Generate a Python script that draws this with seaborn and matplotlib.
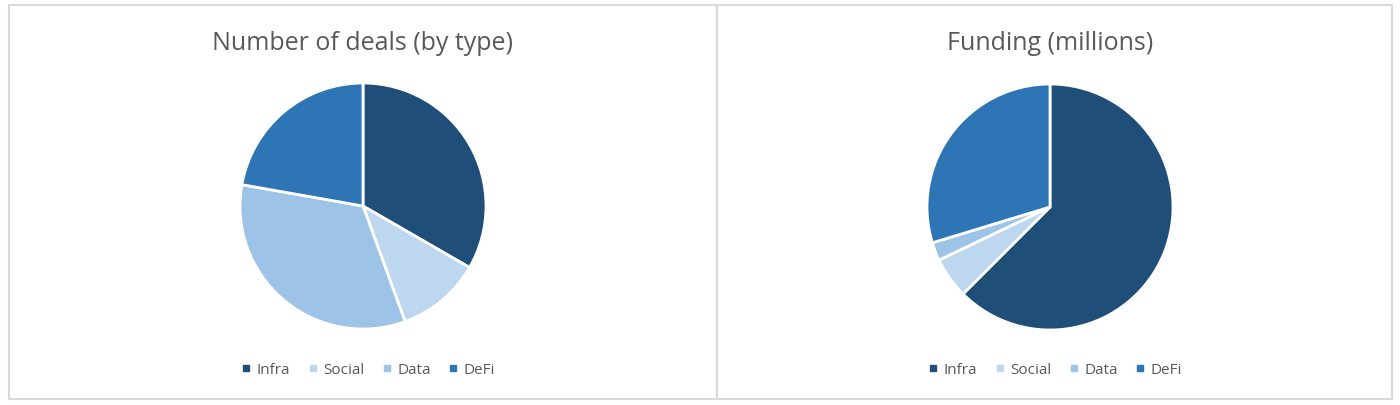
import matplotlib
matplotlib.use("Agg")
import matplotlib.pyplot as plt
from matplotlib.lines import Line2D
from matplotlib.patches import Rectangle
import seaborn as sns

# deal types and values
types = ["Infra", "Social", "Data", "DeFi"]
deal_counts = [12, 4, 12, 8]
funding_m = [62.5, 5.4, 2.4, 29.7]
titles = ["Number of deals (by type)", "Funding (millions)"]

colors = sns.color_palette(["#1F4E79", "#BDD7EE", "#9DC3E6", "#2E75B6"])

sns.set_theme(style="white")
plt.rcParams["font.family"] = ["Open Sans", "DejaVu Sans"]

W, H = 1400, 405
fig = plt.figure(figsize=(W / 100, H / 100), dpi=100)
fig.patch.set_facecolor("white")

# panel borders
for x0, x1 in [(9, 717), (717, 1392)]:
    fig.add_artist(Rectangle((x0 / W, 1 - 399 / H), (x1 - x0) / W, 394 / H,
                             transform=fig.transFigure, fill=False,
                             edgecolor="#D9D9D9", linewidth=1.5))

centers = [(363, 206), (1050, 207)]
radius = 123
for (cx, cy), vals, title in zip(centers, [deal_counts, funding_m], titles):
    ax = fig.add_axes([(cx - radius) / W, (H - cy - radius) / H,
                       2 * radius / W, 2 * radius / H])
    ax.pie(vals, colors=colors, startangle=90, counterclock=False,
           wedgeprops=dict(edgecolor="white", linewidth=2))
    ax.set_xlim(-1, 1)
    ax.set_ylim(-1, 1)
    ax.set_aspect("equal")
    ax.axis("off")

    fig.text(cx / W, 1 - 43 / H, title, ha="center", va="center",
             fontsize=18, color="#595959")

    handles = [Line2D([], [], marker="s", linestyle="none", markersize=5,
                      markerfacecolor=c, markeredgecolor=c) for c in colors]
    fig.legend(handles, types, loc="center", ncol=4,
               bbox_to_anchor=((cx + 5) / W, 1 - 370 / H), frameon=False,
               fontsize=11, labelcolor="#595959", handlelength=0.7,
               handletextpad=0.35, columnspacing=1.1)

fig.savefig("out.png", dpi=100, facecolor="white")
